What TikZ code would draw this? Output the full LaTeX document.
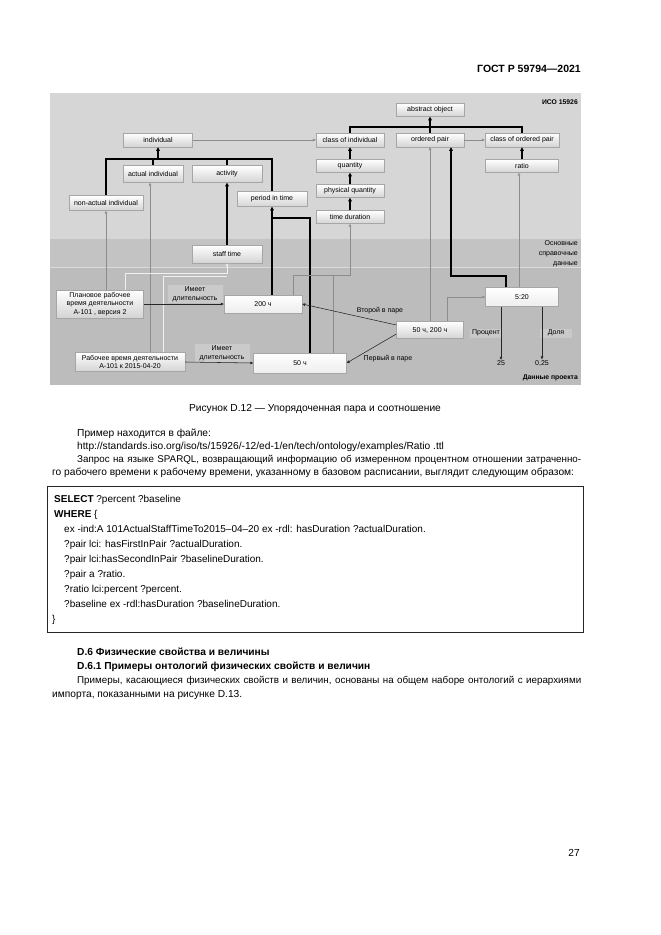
\documentclass[tikz,border=0pt]{standalone}
\usepackage{fontspec}
\setmainfont{Liberation Sans}
\usetikzlibrary{arrows.meta,shadows,calc}
\definecolor{bgup}{HTML}{D6D6D6}
\definecolor{bgref}{HTML}{C3C3C3}
\definecolor{bgprj}{HTML}{BCBCBC}
\definecolor{lblc}{HTML}{CACACA}
\newcommand\dgfont{\fontsize{7}{8.6}\selectfont}
\newcommand\bdfont{\fontsize{10.2}{12}\selectfont}
\newcommand\cdfont{\fontsize{10}{12}\selectfont}
\newcommand\jline[1]{{\fontsize{9.8}{12}\selectfont\makebox[504pt][s]{#1}}}
\begin{document}
\begin{tikzpicture}[x=1pt,y=-1pt,
  cls/.style={draw=black!35, top color=white, bottom color=black!17,
    drop shadow={shadow xshift=0.9pt, shadow yshift=-0.9pt, opacity=0.35},
    inner sep=1pt, font=\dgfont, align=center},
  wcls/.style={cls, top color=white, bottom color=white!93!black},
  lblbox/.style={fill=lblc, inner sep=1pt, font=\dgfont, align=center},
  plain/.style={inner sep=0.5pt, font=\dgfont, align=center},
  thk/.style={line width=1.1pt, black, -{Triangle[length=3.6pt,width=3.6pt]}},
  thkl/.style={line width=1.1pt, black},
  inst/.style={line width=0.55pt, black!45, -{Triangle[length=3pt,width=2.6pt]}},
  instl/.style={line width=0.55pt, black!45},
  lite/.style={line width=0.6pt, black!6},
  litea/.style={lite, -{Triangle[length=3pt,width=2.6pt]}},
  dk/.style={line width=0.55pt, black!85, -{Triangle[length=3pt,width=2.6pt]}},
  dkl/.style={line width=0.55pt, black!85},
  txt/.style={inner sep=0pt, font=\bdfont, anchor=base west},
  code/.style={inner sep=0pt, font=\cdfont, anchor=base west}]
\useasboundingbox (0,0) rectangle (661,935);
\fill[white] (0,0) rectangle (661,935);

% header
\node[inner sep=0pt, anchor=base east, font=\bfseries\fontsize{10.5}{12}\selectfont] (hdr) at (581,72) {ГОСТ Р 59794—2021};

% diagram background
\fill[bgup] (50,93) rectangle (581,239);
\fill[bgref] (50,239) rectangle (581,267);
\fill[bgprj] (50,267) rectangle (581,385);
\draw[bgprj!55!white, line width=0.4pt] (50,267) -- (581,267);

\node[inner sep=0pt, anchor=east, font=\bfseries\fontsize{6.8}{8}\selectfont] (iso) at (578,102) {ИСО 15926};
\node[inner sep=0pt, anchor=north east, align=right, font=\fontsize{7}{10}\selectfont] (refd) at (578,240) {Основные\\справочные\\данные};
\node[inner sep=0pt, anchor=east, font=\bfseries\fontsize{6.8}{8}\selectfont] (prjd) at (578,378) {Данные проекта};

% ontology nodes
\node[cls, minimum width=68, minimum height=13] (ao) at (430,110) {abstract object};
\node[cls, minimum width=69, minimum height=14] (ind) at (158,140) {individual};
\node[cls, minimum width=68, minimum height=14] (coi) at (350,140) {class of individual};
\node[cls, minimum width=68, minimum height=14] (op) at (430,140) {ordered pair};
\node[cls, minimum width=74, minimum height=14] (cop) at (522,140) {class of ordered pair};
\node[cls, minimum width=73, minimum height=13] (ratio) at (522,166) {ratio};
\node[cls, minimum width=60, minimum height=17] (actind) at (153,174) {actual individual};
\node[cls, minimum width=70, minimum height=17] (act) at (227,174) {activity};
\node[cls, minimum width=68, minimum height=13] (qty) at (350,166) {quantity};
\node[cls, minimum width=68, minimum height=13] (pq) at (350,191) {physical quantity};
\node[cls, minimum width=68, minimum height=13] (td) at (350,217) {time duration};
\node[cls, minimum width=74, minimum height=15] (nonact) at (106,203) {non-actual individual};
\node[cls, minimum width=70, minimum height=15] (period) at (272,199) {period in time};
\node[cls, minimum width=70, minimum height=18] (staff) at (227,254) {staff time};

% project nodes
\node[cls, minimum width=87, minimum height=28] (plan) at (100,304) {Плановое рабочее\\время деятельности\\А-101 , версия 2};
\node[lblbox, minimum width=55, minimum height=18] (lab1) at (195,294) {Имеет\\длительность};
\node[wcls, minimum width=78, minimum height=18] (h200) at (263,304) {200 ч};
\node[cls, minimum width=110, minimum height=19] (work) at (130,362) {Рабочее время деятельности\\А-101 к 2015-04-20};
\node[lblbox, minimum width=55, minimum height=18] (lab2) at (222,353) {Имеет\\длительность};
\node[wcls, minimum width=93, minimum height=20] (h50) at (300,363) {50 ч};
\node[cls, minimum width=67, minimum height=17] (pair) at (430,330) {50 ч, 200 ч};
\node[wcls, minimum width=73, minimum height=19] (r520) at (522,297) {5:20};
\node[lblbox, minimum width=32, minimum height=9, fill=bgprj!80!white] (lab3) at (486,333) {Процент};
\node[lblbox, minimum width=32, minimum height=9, fill=bgprj!80!white] (lab4) at (556,333) {Доля};
\node[plain] (v25) at (501,363) {25};
\node[plain] (v025) at (542,363) {0,25};
\node[plain] (lab5) at (380,311) {Второй в паре};
\node[plain] (lab6) at (388,359) {Первый в паре};

% thick subclass tree to individual
\coordinate (bary) at (0,159);
\draw[thkl] (nonact.north) -- (nonact.north |- bary) -- (period.north |- bary) -- (period.north);
\draw[thkl] (actind.north) -- (actind.north |- bary);
\draw[thkl] (act.north) -- (act.north |- bary);
\draw[thk] (ind.south |- bary) -- (ind.south);
\draw[thk] (staff.north) -- (act.south);

% thick tree to abstract object
\coordinate (barz) at (0,127);
\draw[thkl] (coi.north) -- (coi.north |- barz) -- (cop.north |- barz) -- (cop.north);
\draw[thkl] (op.north) -- (op.north |- barz);
\draw[thk] (ao.south |- barz) -- (ao.south);

\draw[thk] (qty.north) -- (coi.south);
\draw[thk] (pq.north) -- (qty.south);
\draw[thk] (td.north) -- (pq.south);
\draw[thk] (ratio.north) -- (cop.south);

% thick lines from durations to period in time
\draw[thk] (h200.north -| period.south) -- (period.south);
\coordinate (j1) at (310,218);
\draw[thkl] (h50.north -| j1) -- (j1) -- (j1 -| period.south);

% thick from 5:20 to ordered pair
\coordinate (j2) at (506,276);
\coordinate (j3) at (451,276);
\draw[thk] (r520.north -| j2) -- (j2) -- (j3) -- (j3 |- op.south);

% thin classification lines
\draw[inst] (ind.east) -- (coi.west);
\draw[inst] (op.east) -- (cop.west);
\draw[inst] (plan.north -| nonact.south) -- (nonact.south);
\coordinate (j4) at (150,0);
\draw[inst] (work.north -| j4) -- (j4 |- actind.south);
\draw[inst] (pair.north) -- (pair.north |- op.south);
\coordinate (j8) at (519,0);
\draw[inst] (r520.north -| j8) -- (j8 |- ratio.south);
\coordinate (j9) at (447,0);
\draw[inst] (pair.north -| j9) |- (r520.west);
\coordinate (j5) at (293,275);
\draw[inst] (h200.north -| j5) -- (j5) -- (td.south |- j5) -- (td.south);
\coordinate (j10) at (333,275);
\draw[instl] (h50.north -| j10) -- (j10);
\coordinate (j6) at (125,273);
\draw[litea] (plan.north -| j6) -- (j6) -- (j6 -| staff.south) -- (staff.south);
\coordinate (j7) at (163,276);
\draw[lite] (work.north -| j7) -- (j7) -- (j7 -| staff.south);

% dark relation lines
\draw[dk] (plan.east) -- (h200.west);
\draw[dk] (work.east) -- (h50.west);
\draw[dk] ($(pair.west)+(0,-5)$) -- (h200.east);
\draw[dk] ($(pair.west)+(0,4)$) -- (h50.east);
\draw[dk] (r520.south -| v25.north) -- (v25.north);
\draw[dk] (r520.south -| v025.north) -- (v025.north);

% caption and text
\node[inner sep=0pt, anchor=base, font=\bdfont] (cap) at (315,411.5) {Рисунок D.12 — Упорядоченная пара и соотношение};
\node[txt] (t1) at (77,436.5) {Пример находится в файле:};
\node[txt] (t2) at (77,449.5) {http://standards.iso.org/iso/ts/15926/-12/ed-1/en/tech/ontology/examples/Ratio .ttl};
\node[txt] (t3) at (77,462.5) {\jline{Запрос на языке SPARQL, возвращающий информацию об измеренном процентном отношении затраченно-}};
\node[txt] (t4) at (52,475.5) {го рабочего времени к рабочему времени, указанному в базовом расписании, выглядит следующим образом:};

% code box
\node[draw=black!85, line width=0.8pt, anchor=north west, minimum width=536, minimum height=146, inner sep=0pt] (cbox) at (47,486) {};
\node[code] (c1) at (54,502.5) {\textbf{SELECT} ?percent ?baseline};
\node[code] (c2) at (54,517.5) {\textbf{WHERE} \{};
\node[code] (c3) at (64,532.5) {ex -ind:A 101ActualStaffTimeTo2015–04–20 ex -rdl: hasDuration ?actualDuration.};
\node[code] (c4) at (64,547.5) {?pair lci: hasFirstInPair ?actualDuration.};
\node[code] (c5) at (64,562.5) {?pair lci:hasSecondInPair ?baselineDuration.};
\node[code] (c6) at (64,577.5) {?pair a ?ratio.};
\node[code] (c7) at (64,592.5) {?ratio lci:percent ?percent.};
\node[code] (c8) at (64,607.5) {?baseline ex -rdl:hasDuration ?baselineDuration.};
\node[code] (c9) at (52,622.5) {\}};

% sections
\node[txt, font=\bfseries\bdfont] (s1) at (77,655.5) {D.6 Физические свойства и величины};
\node[txt, font=\bfseries\bdfont] (s2) at (77,669.5) {D.6.1 Примеры онтологий физических свойств и величин};
\node[txt] (p1) at (77,683.5) {\jline{Примеры, касающиеся физических свойств и величин, основаны на общем наборе онтологий с иерархиями}};
\node[txt] (p2) at (52,697.5) {импорта, показанными на рисунке D.13.};

\node[inner sep=0pt, anchor=base east, font=\bdfont] (pg) at (580,856.5) {27};
\end{tikzpicture}
\end{document}
